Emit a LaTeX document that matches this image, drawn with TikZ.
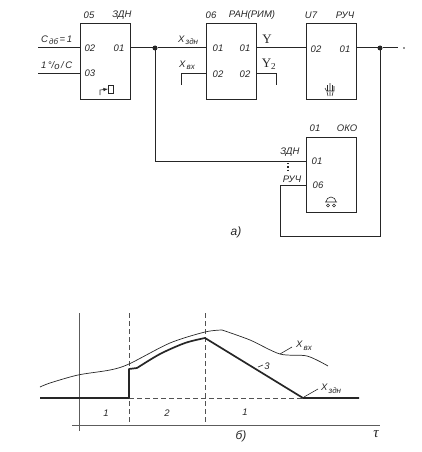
\documentclass[tikz,border=0pt]{standalone}
\usepackage{fontspec}
\setmainfont{Liberation Sans}
\newfontfamily\yfont{Liberation Serif}
\usetikzlibrary{positioning,calc}
\definecolor{ink}{gray}{0.15}
\newcommand{\sbs}[1]{\raisebox{-2.5pt}{\fontsize{8}{8}\selectfont\,#1}}
\begin{document}
\begin{tikzpicture}[x=1pt,y=-1pt,
  every node/.style={inner sep=0pt,outer sep=0pt,text=ink},
  font=\fontsize{9.5}{10}\selectfont\itshape,
  blk/.style={draw=ink,line width=1pt,minimum width=50pt,minimum height=75pt},
  w/.style={draw=ink,line width=1pt},
  dotj/.style={circle,fill=ink,minimum size=5pt},
  tiny/.style={draw=ink,line width=.6pt},
  ax/.style={draw=ink!75,line width=.8pt},
  dsh/.style={draw=ink!80,line width=.6pt,dash pattern=on 5pt off 3pt},
  thn/.style={draw=ink,line width=.7pt},
  thk/.style={draw=ink,line width=1.7pt,line join=round},
  big/.style={font=\fontsize{12}{12}\selectfont\itshape},
  sym/.style={font=\yfont\fontsize{13}{13}\selectfont}]
\useasboundingbox (0,0) rectangle (421,452);
% blocks
\node[blk] (zdn) at (105,61.5) {};
\node[blk,right=76pt of zdn] (ran) {};
\node[blk,right=50pt of ran] (ruc) {};
\node[blk,below=38pt of ruc] (oko) {};
% block headers
\node (zdnA) at (89,15) {05};
\node (zdnB) at (122,15) {ЗДН};
\node (ranA) at (211,15) {06};
\node (ranB) at (252,15) {РАН(РИМ)};
\node (rucA) at (311,15) {U7};
\node (rucB) at (345,15) {РУЧ};
\node (okoA) at (315,128) {01};
\node (okoB) at (347,128) {ОКО};
% ports
\node (z2) at (90,48) {02};
\node (z3) at (90,73) {03};
\node (z1) at (119,48) {01};
\node (r1) at (218,48) {01};
\node (r2) at (218,74) {02};
\node (q1) at (245,48) {01};
\node (q2) at (245,74) {02};
\node (u2) at (316,49) {02};
\node (u1) at (345,49) {01};
\node (k1) at (317,161) {01};
\node (k6) at (318,185) {06};
% free ends
\coordinate (cIn) at (38,48);
\coordinate (tIn) at (38,73);
\coordinate (xIn) at (181,85);
\coordinate (yEnd) at (276,85);
\coordinate (oEnd) at (398,48);
\coordinate (loopR) at (380,236);
\coordinate (loopL) at (280,236);
\node[dotj] (jA) at (155,48) {};
\node[dotj] (jB) at (380,48) {};
% wires
\draw[w] (cIn) -- (zdn.west |- cIn);
\draw[w] (tIn) -- (zdn.west |- tIn);
\draw[w] (zdn.east |- jA) -- (jA) -- (ran.west |- jA);
\draw[w] (xIn) -- (xIn |- tIn) -- (ran.west |- tIn);
\draw[w] (ran.east |- cIn) -- (ruc.west |- cIn);
\draw[w] (ran.east |- tIn) -- (yEnd |- tIn) -- (yEnd);
\draw[w] (ruc.east |- jB) -- (jB) -- (oEnd);
\draw[w] (jA) |- (oko.west |- k1);
\draw[w] (jB) -- (loopR) -- (loopL) |- (oko.west |- k6);
\fill[ink] (404,48) circle (.8pt);
% wire labels
\node[anchor=south west] (cLab) at (41,45) {С\sbs{дб}\,=\,1};
\node[anchor=south west] (tLab) at (41,70) {1\,°/\raisebox{-1pt}{о}\,/\,С};
\node[anchor=south west] (xzLab) at (178,45) {Х\sbs{здн}};
\node[anchor=south west] (xvLab) at (179,70) {Х\sbs{вх}};
\node[sym] (yLab) at (267,39) {Y};
\node[sym] (y2Lab) at (269,64) {Y\textsubscript{2}};
\node (zdLab) at (290,152) {ЗДН};
\node (rcLab) at (292,179) {РУЧ};
\draw[line width=1.1pt,ink,dash pattern=on 1.3pt off 2pt] (288,163) -- (288,172);
% pictograms
\draw[tiny] (108,85) rectangle (113,93);
\draw[tiny,-latex] (100,95) -- (100,90) -- (108,89);
\draw[tiny] (330,83) -- (330,91) (327.5,85) -- (327.5,91) (332.5,85) -- (332.5,91) (325,88) -- (326.5,91) -- (334,91) -- (334,86)
  (327,92) -- (328,96) (330,92) -- (330,96) (333,92) -- (332,96);
\draw[tiny] (326,202) arc (180:360:5) (325,202) -- (337,202);
\draw[tiny] (328,205.5) circle (1.5) (334,205.5) circle (1.5);
\node[big] (capA) at (236,232) {а)};
% graph
\draw[ax] (79,313) -- (79,431);
\draw[ax] (72,425) -- (380,425);
\draw[dsh] (129,313) -- (129,425);
\draw[dsh] (205,313) -- (205,425);
\draw[dsh] (129,398) -- (303,398);
\draw[thn] plot[smooth,tension=.5] coordinates {(40,387) (50,383) (78,375) (110,370) (129,364) (170,343) (205,332) (222,330)};
\draw[thn] plot[smooth,tension=.5] coordinates {(222,330) (250,340) (280,354) (307,356) (328,366)};
\draw[thk] (40,398) -- (129,398) -- (129,369) -- (137,368) plot[smooth,tension=.5] coordinates {(137,368) (160,354) (185,343) (205,338)} -- (303,398) -- (359,398);
\draw[tiny] (280,354) -- (292,347);
\draw[tiny] (258,367) -- (263,365);
\draw[tiny] (304,397) -- (318,389);
\node[anchor=west] (xvG) at (296,346) {Х\sbs{вх}};
\node (n3) at (267,366) {3};
\node[anchor=west] (xzG) at (321,389) {Х\sbs{здн}};
\node (p1) at (106,413) {1};
\node (p2) at (167,413) {2};
\node (p3) at (245,412) {1};
\node[big] (capB) at (241,436) {б)};
\node[sym,font=\yfont\fontsize{15}{15}\selectfont\itshape] (tauL) at (376,434) {τ};
\end{tikzpicture}
\end{document}
